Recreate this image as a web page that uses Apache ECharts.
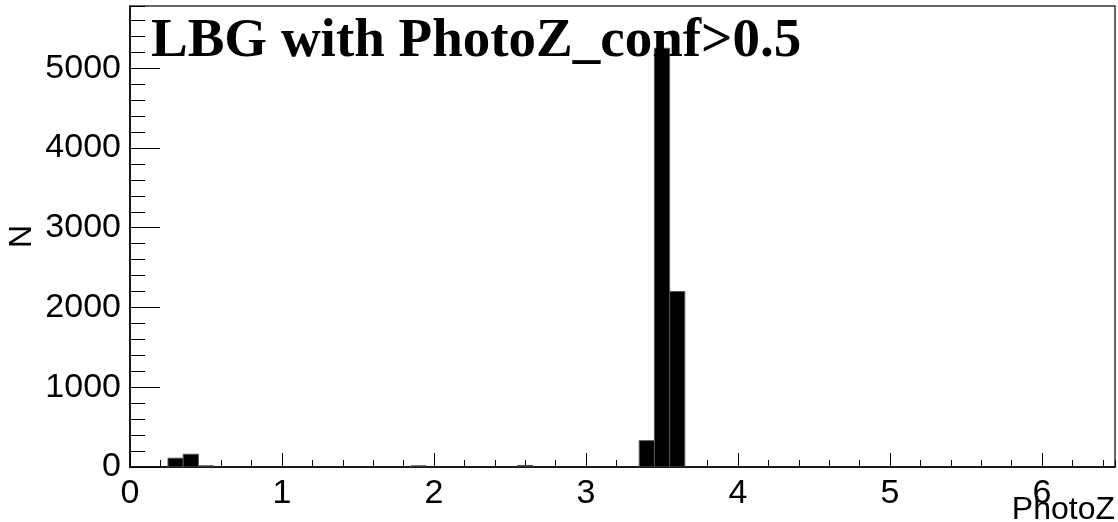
<!DOCTYPE html>
<html lang="en">
<head>
    <meta charset="UTF-8"/>
    <title>LBG PhotoZ</title>
    <script src="https://cdn.jsdelivr.net/npm/echarts@6/dist/echarts.min.js"></script>
    <style>
        html, body { margin: 0; padding: 0; background: #fff; }
    </style>
</head>
<body>

<div id="main" style="width: 1118px;height:522px;"></div>

<script type="text/javascript">
    // histogram bins (center of bin, width 0.1) and counts
    var binCenters = [0.3, 0.4, 0.5, 1.9, 2.6, 3.4, 3.5, 3.6];
    var counts = [110, 160, 15, 15, 20, 330, 5250, 2200];
    var binWidth = 0.1;

    var xMax = 6.48;
    var yMax = 5780;

    var data = [];
    for (var i = 0; i < binCenters.length; i++) {
        data.push([binCenters[i], counts[i]]);
    }

    var myChart = echarts.init(document.getElementById('main'));

    var labelFont = {fontFamily: 'Liberation Sans', fontSize: 34, color: '#000'};
    var plain = function (v) { return String(v); };

    option = {
        animation: false,
        backgroundColor: '#fff',
        title: [
            {
                text: 'LBG with PhotoZ_conf>0.5',
                left: 146,
                top: 9,
                textStyle: {
                    fontFamily: 'Liberation Serif',
                    fontWeight: 'bold',
                    fontSize: 55,
                    color: '#000'
                }
            },
            {
                // x axis title, ROOT puts it under the right end
                text: 'PhotoZ',
                right: 3,
                bottom: -4,
                padding: 0,
                textStyle: {fontFamily: 'Liberation Sans', fontWeight: 'normal', fontSize: 32, color: '#000'}
            }
        ],
        grid: {
            left: 130, right: 3, top: 6, bottom: 55,
            outerBoundsMode: 'none',
            containLabel: false,
            show: true,
            borderColor: '#333',
            borderWidth: 1.5,
            backgroundColor: '#fff'
        },
        xAxis: [
            {
                type: 'value',
                position: 'bottom',
                min: 0,
                max: xMax,
                interval: 1,
                axisLine: {lineStyle: {color: '#000', width: 1.5}},
                axisTick: {inside: true, length: 14, lineStyle: {color: '#000'}},
                axisLabel: Object.assign({margin: 10, showMaxLabel: false, formatter: plain}, labelFont),
                splitLine: {show: false}
            },
            {
                type: 'value',
                position: 'bottom',
                min: 0,
                max: xMax,
                interval: 0.2,
                axisLine: {show: false},
                axisTick: {inside: true, length: 7, lineStyle: {color: '#000'}},
                axisLabel: {show: false},
                splitLine: {show: false}
            }
        ],
        yAxis: [
            {
                type: 'value',
                position: 'left',
                min: 0,
                max: yMax,
                interval: 1000,
                name: 'N',
                nameLocation: 'middle',
                nameGap: 92,
                nameMoveOverlap: false,
                nameTextStyle: {fontFamily: 'Liberation Sans', fontSize: 32, color: '#000'},
                axisLine: {show: true, lineStyle: {color: '#000', width: 1.5}},
                axisTick: {show: true, inside: true, length: 30, lineStyle: {color: '#000'}},
                axisLabel: Object.assign({margin: 9, showMaxLabel: false, formatter: plain}, labelFont),
                splitLine: {show: false}
            },
            {
                type: 'value',
                position: 'left',
                min: 0,
                max: yMax,
                interval: 200,
                axisLine: {show: false},
                axisTick: {show: true, inside: true, length: 15, lineStyle: {color: '#000'}},
                axisLabel: {show: false},
                splitLine: {show: false}
            }
        ],
        series: [
            {
                type: 'custom',
                xAxisIndex: 0,
                yAxisIndex: 0,
                clip: true,
                data: data,
                renderItem: function (params, api) {
                    var x = api.value(0);
                    var y = api.value(1);
                    var p0 = api.coord([x - binWidth / 2, y]);
                    var p1 = api.coord([x + binWidth / 2, 0]);
                    return {
                        type: 'rect',
                        shape: {x: p0[0], y: p0[1], width: p1[0] - p0[0], height: p1[1] - p0[1]},
                        style: {fill: '#000', stroke: '#555', lineWidth: 1}
                    };
                }
            }
        ]
    };

    myChart.setOption(option);
</script>
</body>
</html>
